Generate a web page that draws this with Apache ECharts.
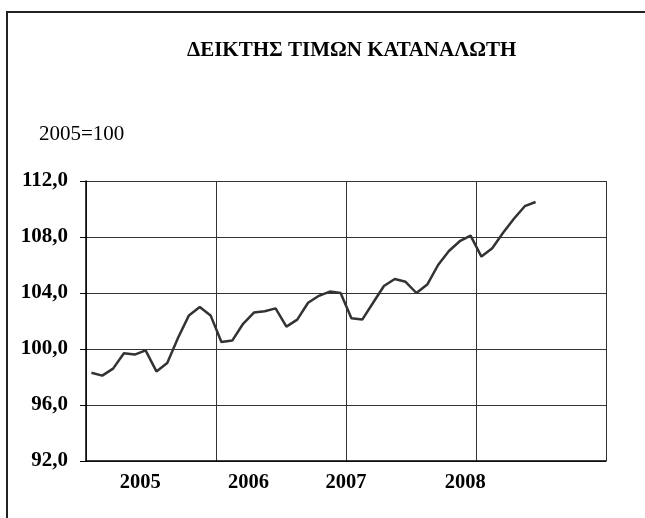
<!DOCTYPE html>
<html>
<head>
<meta charset="utf-8">
<script src="https://cdn.jsdelivr.net/npm/echarts@6/dist/echarts.min.js"></script>
<style>
  html, body { margin: 0; padding: 0; background: #fff; }
  #chart { width: 645px; height: 518px; }
</style>
</head>
<body>
<div id="chart"></div>
<script>
// monthly slots Jan 2005 .. Dec 2008
const months = [];
for (let y = 2005; y <= 2008; y++) {
  for (let m = 1; m <= 12; m++) months.push(y + '-' + (m < 10 ? '0' + m : m));
}
// CPI values (2005=100), Jan 2005 - Jun 2008
const cpi = [
  98.3, 98.1, 98.6, 99.7, 99.6, 99.9, 98.4, 99.0, 100.8, 102.4, 103.0, 102.4,
  100.5, 100.6, 101.8, 102.6, 102.7, 102.9, 101.6, 102.1, 103.3, 103.8, 104.1, 104.0,
  102.2, 102.1, 103.3, 104.5, 105.0, 104.8, 104.0, 104.6, 106.0, 107.0, 107.7, 108.1,
  106.6, 107.2, 108.3, 109.3, 110.2, 110.5
];
const yearLabels = ['2005', '2006', '2007', '2008'];
// where Excel put the year labels (in month slots)
const yearLabelAt = [5, 15, 24, 35];

const serif = "'Liberation Serif', 'Times New Roman', serif";
const chart = echarts.init(document.getElementById('chart'));

chart.setOption({
  animation: false,
  backgroundColor: '#fff',
  title: [
    {
      text: 'ΔΕΙΚΤΗΣ ΤΙΜΩΝ ΚΑΤΑΝΑΛΩΤΗ',
      left: 187, top: 40, padding: 0,
      textStyle: { fontFamily: serif, fontSize: 21, fontWeight: 'bold', color: '#000' }
    },
    {
      text: '2005=100',
      left: 39, top: 124, padding: 0,
      textStyle: { fontFamily: serif, fontSize: 21, fontWeight: 'normal', color: '#000' }
    }
  ],
  graphic: [{
    type: 'rect',
    shape: { x: 7, y: 12, width: 700, height: 600 },
    style: { fill: 'none', stroke: '#222', lineWidth: 2 },
    silent: true
  }],
  grid: { left: 86, right: 39, top: 181, bottom: 57 },
  xAxis: [
    {
      type: 'category',
      data: months,
      boundaryGap: true,
      axisLine: { lineStyle: { color: '#000', width: 1.5 } },
      axisTick: { show: false },
      axisLabel: { show: false },
      splitLine: { show: true, interval: 11, lineStyle: { color: '#333', width: 1 } }
    },
    {
      type: 'value',
      position: 'bottom',
      min: 0, max: 48, interval: 0.5,
      axisLine: { show: false },
      axisTick: { show: false },
      splitLine: { show: false },
      axisLabel: {
        margin: 11,
        showMinLabel: true, showMaxLabel: true,
        fontFamily: serif, fontSize: 20.5, fontWeight: 'bold', color: '#000',
        formatter: v => {
          const i = yearLabelAt.indexOf(v);
          return i >= 0 ? yearLabels[i] : '';
        }
      }
    }
  ],
  yAxis: {
    type: 'value',
    min: 92, max: 112, interval: 4,
    axisLine: { show: true, lineStyle: { color: '#000', width: 1.5 } },
    axisTick: { show: true, length: 6, lineStyle: { color: '#000' } },
    axisLabel: {
      margin: 18,
      fontFamily: serif, fontSize: 21, fontWeight: 'bold', color: '#000',
      formatter: v => v.toFixed(1).replace('.', ',')
    },
    splitLine: { lineStyle: { color: '#333', width: 1 } }
  },
  series: [{
    type: 'line',
    xAxisIndex: 0,
    data: cpi,
    symbol: 'none',
    lineStyle: { color: '#333', width: 2.5 }
  }]
});
</script>
</body>
</html>
